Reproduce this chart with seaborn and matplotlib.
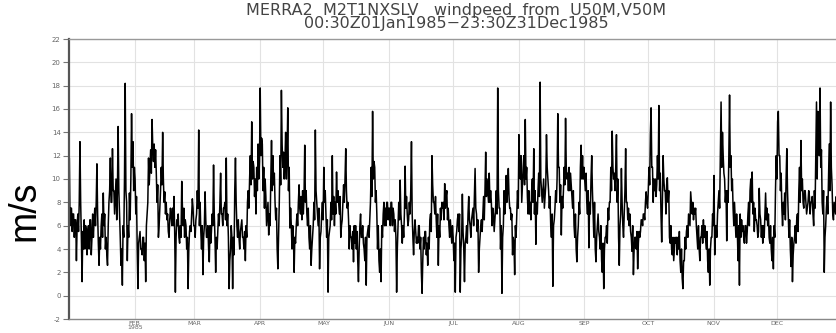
import numpy as np
import pandas as pd
import matplotlib
matplotlib.use("Agg")
import matplotlib.pyplot as plt
import seaborn as sns

# ---- data: wind speed at 50 m (m/s), 1985 ----
# per month: two readings per day (first half, second half of the day) ...
jan = [11.8, 6, 7.5, 5.5, 7, 5, 6.5, 3, 7, 5.5, 13.2, 8, 1.2, 5.5, 6.5, 4, 5.5, 3.5, 6, 4,
       6.5, 3.5, 7, 5, 7.5, 6, 11.3, 7, 2.6, 5, 6, 7, 8.8, 6, 4, 5, 2.6, 6, 9, 11.8,
       8, 12.6, 9, 7, 10, 6.5, 14.5, 9, 5, 2.6, 0.9, 6, 10, 18.2, 8, 3, 5, 8.8, 10, 15.6,
       13.2, 9]
feb = [10, 7, 4, 0.6, 5, 5.5, 4, 3.5, 5, 3, 1.2, 6, 8, 11.8, 11, 12.5, 15.1, 12.8, 13, 11,
       10.5, 8, 5, 6, 9, 11, 14, 10, 8.9, 7, 6.5, 7, 5, 6.5, 6.9, 6, 6, 8.5, 0.3, 5,
       6, 7, 4.5, 6, 9.8, 7.5, 7.5, 5, 6, 4, 0.6, 4, 6, 5.5, 8.3, 7.5]
mar = [6, 5, 7, 9, 14.2, 6, 5.5, 4, 1.8, 5, 8.9, 6.5, 5, 6, 2.9, 6, 5.5, 7, 11.2, 7,
       2, 5, 5.5, 7, 8, 10.5, 7, 6, 7.5, 8, 11.8, 6, 5, 0.6, 4, 6, 0.6, 5, 9, 11.8,
       6, 5, 5, 4, 6, 6.5, 5, 4, 3, 6, 8, 9, 10, 12, 14.9, 10, 11, 8.5, 7, 11,
       13, 10]
apr = [17.8, 12, 13, 9, 7.5, 10, 6, 7, 5.2, 7, 10, 13.3, 12, 9.5, 8, 6.5, 4, 2.3, 8, 12,
       17.6, 13, 12.3, 10, 14, 10, 16.1, 9, 5.8, 7.5, 4, 6, 2, 5, 6, 7, 8, 9.5, 7, 8.5,
       9, 7, 12.9, 8, 7, 6, 5, 4, 2.6, 4, 6, 8, 14.2, 9, 7, 6, 2.3, 5, 7, 8]
may = [11, 8, 7, 5, 0.3, 5, 6, 8, 12, 7, 6, 8, 10.6, 8, 8, 7, 5, 6, 8, 9.5,
       10, 12.6, 7.5, 8, 4, 6, 5, 4, 2.9, 6, 6, 4, 3, 1.2, 6, 7, 5, 6, 4, 3,
       0.9, 5, 6, 5, 8, 11, 15.8, 10, 11, 8, 7, 4, 3, 2, 1.2, 6, 7, 8, 7.5, 6,
       8, 6.5]
jun = [7.5, 6, 8, 6, 7, 5.5, 5, 0.3, 6, 8, 9.9, 7, 4.5, 6, 7, 11.1, 8.5, 7, 6.5, 8,
       9, 13.2, 5, 3.5, 6.5, 5.5, 5, 4.5, 6, 4, 2, 0.2, 5, 4, 5.5, 3.5, 2.6, 5, 6.5, 7,
       12, 9.5, 8, 7, 6.5, 5, 2.6, 6, 7.5, 6.5, 7.5, 8, 9.6, 7.5, 9, 6.5, 6, 5, 5.5, 4.5]
jul = [5, 3, 0.3, 5, 6.5, 7, 7, 0.3, 5, 8.7, 4, 1.2, 5, 6, 7, 8.5, 6, 5, 7, 7.5,
       8.5, 10.9, 7, 5.5, 2, 4, 6, 6.5, 7, 8.5, 9, 12.3, 10, 9, 10.5, 8, 8, 6, 7, 5.5,
       7.5, 9, 17.8, 9, 7.5, 4, 0.2, 5, 9, 7, 10.3, 8, 10.9, 8.5, 7.5, 6.5, 3.5, 5, 1.8, 6,
       7, 9]
aug = [13.8, 11, 12, 8, 11, 12, 15.1, 10, 8.5, 7, 7, 8, 9, 10, 12.6, 7, 4.4, 8, 9, 10.5,
       18.3, 10, 8, 9, 7.5, 8.5, 13.8, 11, 9, 7.5, 6, 5, 0.8, 6, 7.5, 9, 10, 15.6, 11, 8,
       5.2, 8.5, 9, 11, 15.2, 11, 10.5, 9, 9, 10.5, 8.5, 7.5, 6, 5, 4, 2.9, 6, 8, 11, 12.9,
       12, 10]
sep = [10, 9, 8, 7, 4.1, 8, 10, 12, 7, 5, 4, 2.9, 6, 7, 5, 4, 3, 2, 0.6, 4,
       5, 6, 7.5, 6.5, 8, 11, 14.1, 11, 10.5, 9, 13.8, 8, 5, 2.6, 7, 10.9, 6, 5, 9, 12.6,
       8, 6.5, 6, 7, 5, 3.8, 1.8, 4, 5, 4, 2.3, 4.5, 5, 5.5, 6.5, 6, 7, 6.5, 8.9, 8]
oct_ = [9, 11, 13.8, 16.1, 11, 8, 9, 10, 9.5, 12, 16.3, 9, 7, 4.6, 12, 10, 9, 7, 10.1, 8,
        5, 4.5, 4, 3.5, 3, 4, 4.5, 5, 5, 4, 3, 2, 1.5, 0.6, 3, 5, 5.5, 6, 7, 6.5,
        8.9, 8, 8, 6.5, 7, 7.5, 5, 4, 4, 3, 5, 6, 6.5, 5, 5, 4, 3, 2, 0.9, 4,
        5, 7]
nov = [10.3, 3.5, 6, 5, 8, 9, 12, 16.6, 14, 12, 10, 8, 4.7, 9, 12, 17.2, 12, 9, 7.5, 6,
       6.5, 5, 5.5, 3, 0.9, 7, 6.5, 5.5, 5, 4.5, 6, 4.5, 7, 8, 9, 10, 10.6, 7, 5.5, 7.5,
       6.5, 6, 5.5, 9.2, 6.5, 5, 4.5, 6, 7, 8.8, 7.5, 6, 5, 4.5, 4, 3, 2.3, 6, 9, 12]
dec = [14.9, 15.8, 12, 9, 7.5, 6, 7, 8.8, 10, 12.6, 7, 5, 4, 2.5, 1.2, 3.5, 5, 6, 6.5, 7,
       9, 11, 13.3, 9, 8, 7.5, 9, 8, 7.5, 8, 8.5, 7, 8, 8.5, 6, 9, 12, 16.6, 15.8, 13,
       17.8, 11, 8, 7, 2, 5, 7.5, 8.5, 10, 13, 16.6, 11, 7, 6.5, 7.5, 7, 6.5, 8, 7, 6,
       7.5, 6.5]

# ... plus one late-evening reading per day
jan_eve = [7.5, 7, 6.5, 6, 8, 5, 4, 6, 5.5, 6.5, 5, 6.5, 8, 4.5, 4, 5, 7, 3.5, 8, 8,
           9, 8.5, 9, 7, 4, 5, 9, 6, 6.5, 11, 11]
feb_eve = [8.5, 4.5, 4, 5, 4.5, 7, 9.5, 10.5, 11.5, 12.5, 9.5, 7.5, 9.5, 8, 8, 5.5, 7.5, 7.5, 5.5, 6.5,
           5, 5, 6, 6.5, 5, 5.5, 7, 6]
mar_eve = [6.5, 7.5, 8, 6, 6, 5, 4, 4.5, 6, 5, 4, 6, 7, 7.5, 6.5, 7, 3, 5, 3.5, 8,
           6.5, 5.5, 5, 5.5, 5, 7.5, 9.5, 11.5, 10, 9, 11.5]
apr_eve = [13.5, 11, 8.5, 8, 6, 9, 10.5, 7.5, 5, 9.5, 11, 11.5, 12, 11, 6, 5, 4.5, 6, 7.5, 6.5,
           8.5, 9, 7.5, 6, 5, 6.5, 8, 7.5, 5.5, 6.5]
may_eve = [9, 6.5, 5.5, 6.5, 8.5, 7, 9, 8.5, 6.5, 8, 9, 6.5, 5, 5.5, 4.5, 5.5, 4, 5, 4.5, 5,
           5.5, 6.5, 8.5, 11.5, 9, 6, 4, 5, 6, 8, 7.5]
jun_eve = [8, 7.5, 6.5, 4, 6.5, 6, 5, 7.5, 6, 7, 7, 5.5, 4.5, 6, 5, 3, 5.5, 4.5, 4, 5.5,
           8, 8.5, 7, 5, 8, 6.5, 8.5, 7.5, 6.5, 6]
jul_eve = [4.5, 5.5, 5.5, 4, 5.5, 4.5, 4.5, 6.5, 6.5, 6, 7.5, 6.5, 5, 5.5, 6.5, 8.5, 8, 9, 7.5, 6.5,
           7, 7.5, 6, 6, 8, 9, 7.5, 7, 4.5, 5, 7.5]
aug_eve = [10, 9.5, 9.5, 11, 9, 6.5, 8, 9, 7, 8.5, 9, 10, 9.5, 10, 8.5, 7, 6.5, 8, 11, 9.5,
           7.5, 9.5, 10, 11, 9.5, 9, 7, 5, 7, 10, 11]
sep_eve = [10.5, 9, 7, 9, 8, 5, 5.5, 6, 4.5, 5, 4.5, 8, 9, 10, 11, 10, 6, 8, 7, 8,
           7.5, 5.5, 6, 5, 5.5, 5.5, 6.5, 7, 8, 7.5]
oct_eve = [9.5, 11, 10, 8.5, 10, 10.5, 8, 9, 9.5, 9, 6, 5, 5, 3.5, 5.5, 4, 3, 4, 5, 6,
           7, 7.5, 6, 6, 5, 4.5, 6, 5.5, 4, 5, 6]
nov_eve = [6, 7, 7.5, 11, 10.5, 9, 8, 11, 10, 8, 7, 6, 5, 6, 6, 5.5, 6, 8, 8, 6.5,
           5, 7, 6, 5, 6.5, 7, 6, 5, 5, 10]
dec_eve = [12, 10.5, 8, 6.5, 9, 6.5, 5, 4.5, 4.5, 5.5, 8, 10, 9, 7, 9, 8, 7, 7.5, 10, 12,
           12.5, 9, 6, 7, 9, 9.5, 8, 8.5, 7, 8, 7.5]

month_starts = [31, 59, 90, 120, 151, 181, 212, 243, 273, 304, 334]
month_labels = ["FEB\n1985", "MAR", "APR", "MAY", "JUN", "JUL", "AUG", "SEP", "OCT", "NOV", "DEC"]
y_ticks = list(range(-2, 23, 2))

pairs = np.array(jan + feb + mar + apr + may + jun + jul + aug + sep + oct_ + nov + dec,
                 dtype=float).reshape(-1, 2)
eve = np.array(jan_eve + feb_eve + mar_eve + apr_eve + may_eve + jun_eve + jul_eve
               + aug_eve + sep_eve + oct_eve + nov_eve + dec_eve, dtype=float)
speed = np.column_stack([pairs, eve]).ravel()          # readings in time order
day = np.arange(len(speed)) / 3.0 + 1.0 / 6.0
df = pd.DataFrame({"day": day, "speed": speed})

sns.set_style("white")
plt.rcParams["font.family"] = ["DejaVu Sans"]

W, H = 837, 333
fig = plt.figure(figsize=(W / 100, H / 100), dpi=100)
ax = fig.add_axes([69 / W, 14 / H, 774 / W, 280 / H])

sns.lineplot(data=df, x="day", y="speed", ax=ax, color="#000000", linewidth=1.1,
             estimator=None, sort=False)

ax.set_xlim(0, 365)
ax.set_ylim(-2, 22)
ax.set_yticks(y_ticks)
ax.set_yticklabels([str(v) for v in y_ticks])
ax.set_xticks(month_starts)
ax.set_xticklabels(month_labels)

ax.grid(True, color="#e2e2e2", linewidth=0.8)
ax.set_axisbelow(True)
ax.tick_params(axis="y", which="both", direction="out", length=4, width=0.8,
               color="#777777", labelsize=5, labelcolor="#666666", pad=2, left=True)
ax.tick_params(axis="x", which="both", direction="out", length=0, labelsize=4.5,
               labelcolor="#666666", pad=1.5, bottom=True)
for lbl in ax.get_xticklabels():
    lbl.set_linespacing(0.85)

ax.spines["left"].set_color("#555555")
ax.spines["left"].set_linewidth(1.6)
ax.spines["bottom"].set_color("#888888")
ax.spines["bottom"].set_linewidth(1.0)
ax.spines["top"].set_color("#999999")
ax.spines["top"].set_linewidth(1.0)
ax.spines["top"].set_linestyle((0, (2, 1)))
ax.spines["right"].set_visible(False)

ax.set_xlabel("")
ax.set_ylabel("m/s", fontsize=27, family=["Liberation Sans", "DejaVu Sans"], color="black")
ax.yaxis.set_label_coords(-0.034, 0.386)

ax.set_title("MERRA2  M2T1NXSLV   windpeed  from  U50M,V50M\n00:30Z01Jan1985\u221223:30Z31Dec1985",
             fontsize=11.5, color="#444444", linespacing=0.8, pad=8)

fig.savefig("out.png", dpi=100)
